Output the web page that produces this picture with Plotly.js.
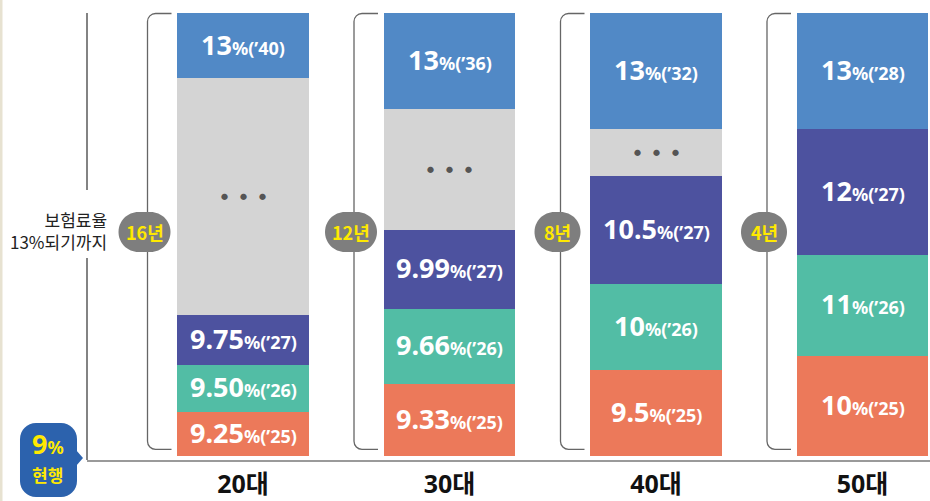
<!DOCTYPE html>
<html>
<head>
<meta charset="utf-8">
<script src="https://cdn.plot.ly/plotly-3.0.1.min.js"></script>
<style>
  html, body { margin: 0; padding: 0; background: #ffffff; }
  #chart { width: 930px; height: 501px; }
</style>
</head>
<body>
<div id="chart"></div>
<script>
// ---- data ----
const categories = ['20대', '30대', '40대', '50대'];
// drawn segment heights (bar is a schematic, heights)
const h25 = [44.5, 72.5, 85.8, 100.5];
const h26 = [47.0, 74.5, 86.7, 101.0];
const h27 = [49.5, 79.5, 107.3, 125.5];
const hGap = [237.0, 120.5, 47.7, 0];
const h13 = [65.0, 95.7, 115.7, 116.0];
// label values
const rate25 = ['9.25', '9.33', '9.5', '10'];
const rate26 = ['9.50', '9.66', '10', '11'];
const rate27 = ['9.75', '9.99', '10.5', '12'];
const rate13 = ['13', '13', '13', '13'];
const year25 = ['25', '25', '25', '25'];
const year26 = ['26', '26', '26', '26'];
const year27 = ['27', '27', '27', '27'];
const year13 = ['40', '36', '32', '28'];
const spans = ['16년', '12년', '8년', '4년'];

const xs = categories.map((c, i) => i);
const C = {
  orange: '#EC795A', teal: '#52BDA5', purple: '#4D529F',
  gray: '#D4D4D4', blue: '#5189C6'
};
const FONT = "'Noto Sans', 'Noto Sans CJK KR', sans-serif";
const KFONT = "'Noto Sans CJK KR', 'Noto Sans', sans-serif";

function bar(y, color) {
  return {
    type: 'bar', x: xs, y: y, width: 0.635,
    marker: { color: color, line: { width: 0 } },
    hoverinfo: 'skip', showlegend: false
  };
}
const data = [
  bar(h25, C.orange), bar(h26, C.teal), bar(h27, C.purple),
  bar(hGap, C.gray), bar(h13, C.blue)
];

// ---- layout helpers (pixel -> paper) ----
const L = 87, R = 930, T = 13, B = 460;
const PX = p => (p - L) / (R - L);
const PY = p => (B - p) / (B - T);
const fmt = v => v.toFixed(5);
function pt(x, y) { return fmt(PX(x)) + ',' + fmt(PY(y)); }
function roundRect(x0, y0, x1, y1, r) {
  const k = 0.5523 * r;
  return 'M' + pt(x0 + r, y0) + ' L' + pt(x1 - r, y0) +
    ' C' + pt(x1 - r + k, y0) + ' ' + pt(x1, y0 + r - k) + ' ' + pt(x1, y0 + r) +
    ' L' + pt(x1, y1 - r) +
    ' C' + pt(x1, y1 - r + k) + ' ' + pt(x1 - r + k, y1) + ' ' + pt(x1 - r, y1) +
    ' L' + pt(x0 + r, y1) +
    ' C' + pt(x0 + r - k, y1) + ' ' + pt(x0, y1 - r + k) + ' ' + pt(x0, y1 - r) +
    ' L' + pt(x0, y0 + r) +
    ' C' + pt(x0, y0 + r - k) + ' ' + pt(x0 + r - k, y0) + ' ' + pt(x0 + r, y0) + ' Z';
}
// x pixel of a category centre (matches axis range below)
const X0 = 243, DX = 206.5;
const cx = i => X0 + DX * i;

const shapes = [];
const annotations = [];

// left beige strip
shapes.push({ type: 'rect', xref: 'paper', yref: 'paper', x0: PX(0), x1: PX(2.5), y0: PY(501), y1: PY(0),
  fillcolor: '#E7E2D1', line: { width: 0 }, layer: 'below' });
// y-axis line (broken around the axis text)
shapes.push({ type: 'line', xref: 'paper', yref: 'paper', x0: 0, x1: 0, y0: PY(13), y1: PY(190),
  line: { color: '#5a5a5a', width: 1.5 } });
shapes.push({ type: 'line', xref: 'paper', yref: 'paper', x0: 0, x1: 0, y0: PY(258), y1: PY(460),
  line: { color: '#5a5a5a', width: 1.5 } });

// brackets & pills
categories.forEach((c, i) => {
  const left = cx(i) - 65.5;
  const vx = left - 30, rx = left - 6, top = 13.5, bot = 449.3, r = 8, k = 0.5523 * r;
  const path = 'M' + pt(rx, top) + ' L' + pt(vx + r, top) +
    ' C' + pt(vx + r - k, top) + ' ' + pt(vx, top + r - k) + ' ' + pt(vx, top + r) +
    ' L' + pt(vx, bot - r) +
    ' C' + pt(vx, bot - r + k) + ' ' + pt(vx + r - k, bot) + ' ' + pt(vx + r, bot) +
    ' L' + pt(rx, bot);
  shapes.push({ type: 'path', xref: 'paper', yref: 'paper', path: path,
    line: { color: '#666666', width: 1.3 } });
  const w = spans[i].length > 2 ? 52 : 46;
  const pcx = vx - 3, pcy = 232;
  shapes.push({ type: 'path', xref: 'paper', yref: 'paper',
    path: roundRect(pcx - w / 2, pcy - 20, pcx + w / 2, pcy + 20, 20),
    fillcolor: '#7E7E7E', line: { width: 0 } });
  annotations.push({ xref: 'paper', yref: 'paper', x: PX(pcx), y: PY(pcy), xanchor: 'center', yanchor: 'middle',
    showarrow: false, text: '<b>' + spans[i] + '</b>', font: { family: KFONT, size: 18, color: '#FFE900' } });
});

// segment labels
function segLabel(i, yMid, rate, yr) {
  annotations.push({ x: i, y: yMid, xref: 'x', yref: 'y', xanchor: 'center', yanchor: 'middle', showarrow: false,
    yshift: 1.5,
    text: '<b>' + rate + '<span style="font-size:18px">%(’' + yr + ')</span></b>',
    font: { family: FONT, size: 27, color: '#ffffff' } });
}
categories.forEach((c, i) => {
  let base = 0;
  segLabel(i, base + h25[i] / 2, rate25[i], year25[i]); base += h25[i];
  segLabel(i, base + h26[i] / 2, rate26[i], year26[i]); base += h26[i];
  segLabel(i, base + h27[i] / 2, rate27[i], year27[i]); base += h27[i];
  if (hGap[i] > 0) {
    [-19, 0, 19].forEach(s => annotations.push({ x: i, y: base + hGap[i] / 2, xref: 'x', yref: 'y',
      xanchor: 'center', yanchor: 'middle', xshift: s, showarrow: false, text: '●',
      font: { family: FONT, size: 7, color: '#555555' } }));
  }
  base += hGap[i];
  segLabel(i, base + h13[i] / 2, rate13[i], year13[i]);
});

// axis title text
annotations.push({ xref: 'paper', yref: 'paper', x: PX(109), y: PY(230), xanchor: 'right', yanchor: 'middle',
  align: 'right', showarrow: false, text: '보험료율<br>13%되기까지',
  font: { family: KFONT, size: 17, color: '#222222' } });

// 9% 현행 badge
shapes.push({ type: 'path', xref: 'paper', yref: 'paper', path: roundRect(20, 423, 77, 497, 16),
  fillcolor: '#2C62AD', line: { width: 0 } });
shapes.push({ type: 'path', xref: 'paper', yref: 'paper',
  path: 'M' + pt(76, 450) + ' L' + pt(83, 458) + ' L' + pt(76, 466) + ' Z',
  fillcolor: '#2C62AD', line: { width: 0 } });
annotations.push({ xref: 'paper', yref: 'paper', x: PX(48), y: PY(443), xanchor: 'center', yanchor: 'middle',
  showarrow: false, text: '<b>9<span style="font-size:18px">%</span></b>',
  font: { family: FONT, size: 27, color: '#FFE900' } });
annotations.push({ xref: 'paper', yref: 'paper', x: PX(47), y: PY(474), xanchor: 'center', yanchor: 'middle',
  showarrow: false, text: '<b>현행</b>', font: { family: KFONT, size: 17, color: '#FFE900' } });

const layout = {
  width: 930, height: 501,
  margin: { l: L, r: 930 - R, t: T, b: 501 - B, pad: 0 },
  paper_bgcolor: '#ffffff', plot_bgcolor: '#ffffff',
  barmode: 'stack', bargap: 0,
  showlegend: false,
  xaxis: {
    range: [(L - X0) / DX, (R - X0) / DX],
    tickvals: xs, ticktext: categories.map(c => '<b>' + c + '</b>'),
    tickfont: { family: FONT, size: 25, color: '#111111' },
    ticks: '', ticklabelstandoff: 1,
    showline: true, linecolor: '#9a9a9a', linewidth: 2,
    showgrid: false, zeroline: false, fixedrange: true
  },
  yaxis: {
    range: [-4, 443], showticklabels: false, ticks: '', showgrid: false,
    zeroline: false, showline: false, fixedrange: true
  },
  shapes: shapes,
  annotations: annotations
};

Plotly.newPlot('chart', data, layout, { displayModeBar: false, staticPlot: true });
</script>
</body>
</html>
